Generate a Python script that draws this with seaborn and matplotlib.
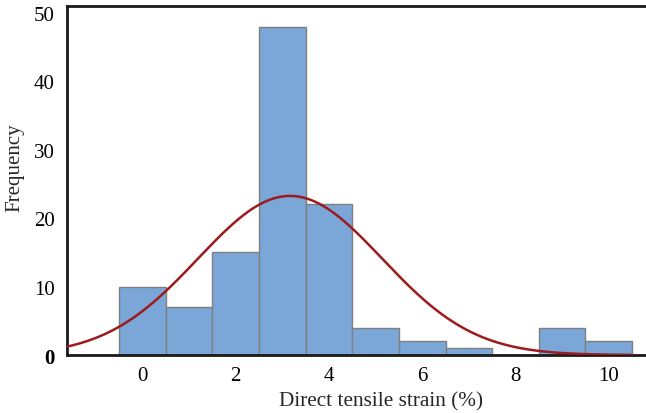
import numpy as np
import pandas as pd
import matplotlib
matplotlib.use("Agg")
import matplotlib.pyplot as plt
import seaborn as sns

# Histogram data (bin centres and counts)
bin_centers = [0, 1, 2, 3, 4, 5, 6, 7, 8, 9, 10]
counts = [10, 7, 15, 48, 22, 4, 2, 1, 0, 4, 2]
x_ticks = [0, 2, 4, 6, 8, 10]
y_ticks = [0, 10, 20, 30, 40, 50]

sns.set_style("white")
plt.rcParams['font.family'] = ['Liberation Serif', 'DejaVu Serif']

fig = plt.figure(figsize=(6.46, 4.14), dpi=100)
ax = fig.add_axes([0.1037, 0.140, 0.8963, 0.843])

df = pd.DataFrame({"strain": bin_centers, "n": counts})
sns.histplot(data=df, x="strain", weights="n", binwidth=1, binrange=(-0.5, 10.5), ax=ax,
             color="#7BA7D8", edgecolor="#7f7f7f", linewidth=1.0, alpha=1.0, zorder=2)

# Normal fit derived from the binned data
c = np.array(bin_centers, float)
w = np.array(counts, float)
total = w.sum()
mu = (c * w).sum() / total
sd = np.sqrt(((c - mu) ** 2 * w).sum() / (total - 1))
xs = np.linspace(-1.7, 10.5, 300)
ys = total * 1.0 / (sd * np.sqrt(2 * np.pi)) * np.exp(-0.5 * ((xs - mu) / sd) ** 2)
sns.lineplot(x=xs, y=ys, ax=ax, color="#9B1B1E", linewidth=1.8, zorder=3)

ax.set_xlim(-1.62, 10.80)
ax.set_ylim(0, 51)
ax.set_xticks(x_ticks)
ax.set_yticks(y_ticks)
ax.tick_params(direction="in", length=3, width=1.2, labelsize=15, colors="black")
ax.tick_params(axis="x", pad=8)
ax.tick_params(axis="y", pad=9)
for lbl in ax.get_yticklabels():
    if lbl.get_text() == "0":
        lbl.set_fontweight("bold")
ax.set_xlabel("Direct tensile strain (%)", fontsize=15.3)
ax.set_ylabel("Frequency", fontsize=15)
ax.xaxis.set_label_coords(0.542, -0.104)
ax.yaxis.set_label_coords(-0.074, 0.54)

for s in ["left", "top", "bottom"]:
    ax.spines[s].set_visible(True)
    ax.spines[s].set_color("#1a1a1a")
    ax.spines[s].set_linewidth(2.0)
ax.spines["right"].set_visible(False)

fig.savefig("out.png", dpi=100)
